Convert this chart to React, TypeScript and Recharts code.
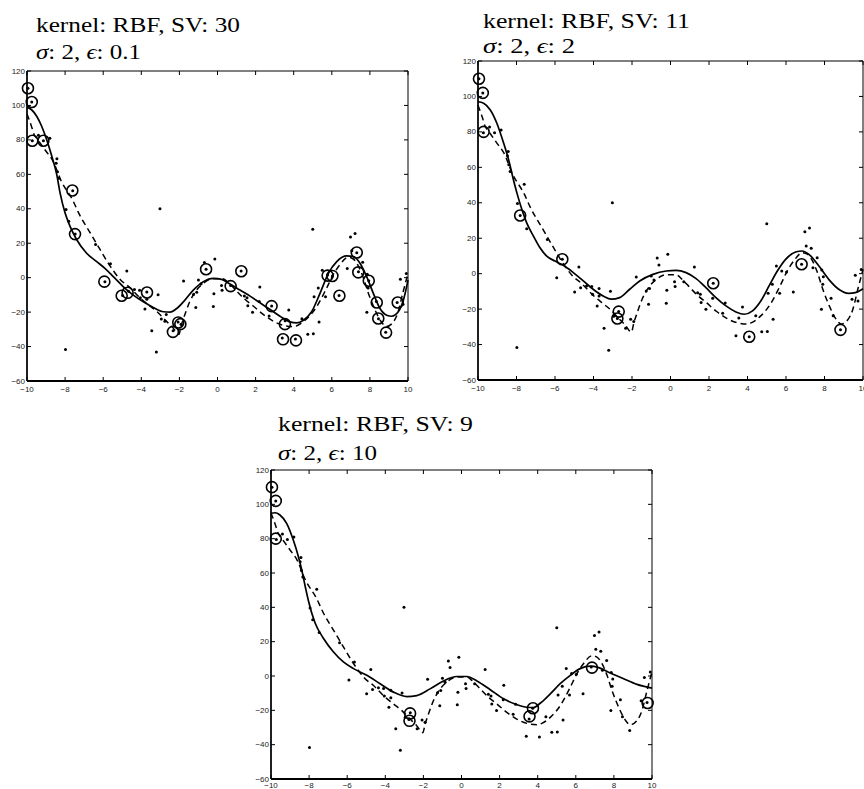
import React from 'react';
import { ComposedChart, Line, Scatter, XAxis, YAxis, ReferenceArea } from 'recharts';

const xTicks = [-10, -8, -6, -4, -2, 0, 2, 4, 6, 8, 10];
const yTicks = [-60, -40, -20, 0, 20, 40, 60, 80, 100, 120];

const titles1 = ['kernel: RBF, SV: 30', '0.1'];
const titles2 = ['kernel: RBF, SV: 11', '2'];
const titles3 = ['kernel: RBF, SV: 9', '10'];

const samplePoints: [number, number][] = [
  [-9.95, 110], [-9.75, 102], [-9.72, 79.5], [-9.4, 82.7], [-9.14, 79.5], [-8.8, 81],
  [-8.43, 69], [-8.47, 66.5], [-8.4, 61.5], [-8.33, 57.7], [-7.6, 50.5], [-7.95, 39.6],
  [-7.81, 32.8], [-7.47, 25.3], [-7.98, -41.7], [-6.4, 19.3], [-5.91, -2.3], [-5.62, 8.1],
  [-4.76, 3.8], [-4.98, -10.3], [-4.67, -7.9], [-4.36, -6.9], [-4.09, -7.3], [-4.05, -11.6],
  [-3.81, -18.2], [-3.71, -8.3], [-3.71, -12.6], [-3.45, -30.8], [-3.21, -43.2], [-3.12, -9.9],
  [-3.02, 40], [-2.69, -21.4], [-2.76, -25.3], [-2.95, -24], [-2.33, -30.8], [-2.07, -25.7],
  [-1.91, -27], [-1.78, -1.9], [-1.26, -9.8], [-1.14, -17.3], [-1.09, -8.4], [-1.0, -1.3],
  [-0.86, -3.6], [-0.69, 8.8], [-0.6, 4.9], [-0.22, -16.7], [-0.19, -9.4], [-0.14, 10.9],
  [0.21, -4.5], [0.24, -7.3], [0.69, -4.5], [1.24, 3.8], [1.41, -10.7], [1.55, -11.6],
  [1.59, -16.3], [1.84, -20.1], [2.19, -13.9], [2.22, -5.4], [2.71, -22.3], [2.84, -16.5],
  [3.4, -35.1], [3.55, -25], [3.74, -18.8], [4.09, -35.6], [4.43, -23.8], [4.74, -32.8],
  [5.0, 28.1], [5.03, -32.6], [5.07, -11.1], [5.29, -6], [5.33, -25.7], [5.5, 4.3],
  [5.67, -11.1], [5.78, 1.5], [6.03, 1.0], [6.38, -10.3], [6.81, 5.3], [6.98, 23.6],
  [7.05, 15.6], [7.22, 25.7], [7.31, 14.4], [7.4, 3.4], [7.62, 9], [7.86, 2],
  [7.84, -20.1], [7.91, -6], [7.94, -1.8], [8.34, -13.9], [8.45, -23.8], [8.83, -31.7],
  [9.43, -14.4], [9.6, -0.9], [9.74, -15.4], [9.91, 2.4],
];

const dashedCurve: [number, number][] = [
  [-10, 95], [-9.79, 88.7], [-9.62, 83], [-9.44, 80.2], [-9.0, 73.4], [-8.65, 68], [-8.21, 56.3],
  [-7.6, 45], [-7.25, 36.7], [-6.73, 26.9], [-6.2, 17], [-5.67, 7.3], [-5.06, -1.6], [-4.62, -5.5],
  [-4.1, -11.4], [-3.57, -16.3], [-3.13, -20.2], [-2.7, -25.1], [-2.35, -29], [-2.03, -33],
  [-1.91, -28], [-1.73, -22], [-1.47, -14.3], [-1.12, -7.5], [-0.77, -3.5], [-0.25, -0.6],
  [0.28, -0.6], [0.63, -3.5], [0.98, -7.5], [1.42, -12.4], [1.86, -16.3], [2.38, -21.2],
  [2.9, -25.1], [3.43, -27.6], [3.96, -28.4], [4.22, -27.6], [4.66, -24.1], [5.18, -17.3],
  [5.71, -6.5], [6.06, 1.4], [6.41, 7.3], [6.85, 11.8], [7.11, 11], [7.37, 7.3], [7.64, 0.4],
  [7.9, -8.4], [8.25, -18.2], [8.6, -25.7], [8.86, -28.4], [9.21, -26], [9.47, -20.2],
  [9.74, -8.4], [10, 2.4],
];

const fit1: [number, number][] = [
  [-10, 99], [-9.76, 97.5], [-9.49, 93.7], [-9.23, 87.9], [-8.97, 80.2], [-8.7, 70.6], [-8.44, 60],
  [-8.27, 49.5], [-8.0, 37.5], [-7.74, 29.8], [-7.39, 22], [-6.87, 14.2], [-6.34, 9.3], [-5.91, 5.4],
  [-5.47, 0.6], [-4.94, -5.3], [-4.42, -10.1], [-3.89, -14], [-3.37, -17.3], [-2.84, -19.8],
  [-2.49, -20], [-2.14, -17.9], [-1.71, -13], [-1.27, -7.2], [-0.74, -2.3], [-0.22, -0.4],
  [0.22, -1], [0.66, -3.7], [1.18, -7.2], [1.71, -10.7], [2.23, -14.6], [2.76, -18.5],
  [3.28, -22.4], [3.81, -25.7], [4.16, -26.3], [4.51, -24.7], [4.94, -19.8], [5.38, -9.1],
  [5.82, 2.5], [6.26, 9.3], [6.78, 12.6], [7.13, 12.3], [7.48, 8.4], [7.83, 0.6], [8.18, -9.1],
  [8.53, -17.9], [8.88, -21.8], [9.14, -22.4], [9.49, -19.8], [9.76, -13], [10, -1.4],
];

const fit2: [number, number][] = [
  [-10, 97], [-9.71, 96.2], [-9.36, 92.4], [-9.02, 84.9], [-8.67, 73.7], [-8.41, 64.3], [-8.16, 53],
  [-7.98, 45.6], [-7.72, 36.2], [-7.47, 28.7], [-7.12, 21.2], [-6.78, 14.6], [-6.43, 9.9], [-6.0, 7.1],
  [-5.57, 4.7], [-5.05, 0.6], [-4.53, -4.1], [-4.02, -8.8], [-3.5, -12.6], [-3.07, -14.4],
  [-2.64, -13.5], [-2.12, -8.8], [-1.6, -4.1], [-0.91, -0.4], [-0.22, 1.5], [0.29, 1.9], [0.81, 0.6],
  [1.33, -2.8], [1.84, -7.9], [2.36, -13.5], [2.88, -18.2], [3.4, -21.6], [3.83, -22.9], [4.26, -21],
  [4.69, -15.4], [5.12, -6.9], [5.55, 1.5], [5.98, 8.1], [6.5, 12.2], [6.84, 12.8], [7.19, 10.9],
  [7.71, 4.3], [8.22, -3.2], [8.74, -8.8], [9.26, -11.1], [9.6, -10.7], [10, -8.5],
];

const fit3: [number, number][] = [
  [-10, 94.8], [-9.79, 95.1], [-9.53, 93.8], [-9.18, 88.9], [-8.83, 79.2], [-8.56, 69.5], [-8.39, 62],
  [-8.2, 52], [-8.04, 44], [-7.69, 31], [-7.25, 22], [-6.73, 14.1], [-6.2, 8.2], [-5.67, 4.3],
  [-4.97, 0.4], [-4.27, -4.5], [-3.57, -9.4], [-2.87, -12], [-2.35, -11.4], [-1.65, -7.5],
  [-0.95, -2.9], [-0.25, -0.3], [0.28, -0.3], [0.81, -2.9], [1.51, -8], [2.21, -13.3], [2.91, -16.7],
  [3.43, -18.2], [3.78, -18.4], [4.13, -15.9], [4.66, -10.4], [5.18, -4.5], [5.71, 0.4], [6.23, 4.3],
  [6.76, 5.7], [7.2, 4.9], [7.81, 1.8], [8.51, -1.6], [9.21, -4.9], [10, -7.1],
];

const sv1: [number, number][] = [
  [-9.95, 110], [-9.75, 102], [-9.72, 79.5], [-9.14, 79.5], [-7.62, 50.6], [-7.48, 25.3],
  [-5.94, -2.3], [-5.03, -10.5], [-4.72, -8.8], [-3.7, -8.6], [-2.34, -31.5], [-2.06, -26],
  [-1.95, -27], [-0.6, 4.9], [0.69, -4.9], [1.25, 3.7], [2.84, -16.5], [3.44, -35.8],
  [3.54, -27], [4.12, -36.4], [5.78, 1.2], [6.03, 1], [6.4, -10.5], [7.31, 14.6], [7.39, 3.1],
  [7.94, -1.8], [8.36, -14.4], [8.44, -23.7], [8.85, -31.9], [9.46, -14.4],
];
const sv2: [number, number][] = [
  [-9.95, 110], [-9.75, 102], [-9.71, 80], [-7.81, 32.8], [-5.62, 8.1], [-2.69, -21.4],
  [-2.76, -25.3], [2.22, -5.4], [4.09, -35.6], [6.81, 5.3], [8.83, -31.7],
];
const sv3: [number, number][] = [
  [-9.95, 110], [-9.75, 102], [-9.75, 80], [-2.7, -21.8], [-2.73, -26.1], [3.75, -18.8],
  [3.57, -23.5], [6.85, 4.9], [9.77, -15.7],
];

const toRows = (arr: [number, number][]) => arr.map(([x, y]) => ({ x, y }));

const fmt = (v: number) => (v < 0 ? '\u2212' + Math.abs(v) : String(v));
const tickFont = 'Liberation Sans, Arial, Helvetica, sans-serif';

function makeXTick(plotH: number, labelDy: number) {
  return (props: any) => {
    const { x, y, payload } = props;
    return (
      <g>
        <line x1={x} y1={y} x2={x} y2={y - 4} stroke="#000" strokeWidth={1} />
        <line x1={x} y1={y - plotH} x2={x} y2={y - plotH + 4} stroke="#000" strokeWidth={1} />
        <text x={x} y={y + labelDy} textAnchor="middle" fontSize={8} style={{ fontFamily: tickFont }} fill="#222">
          {fmt(payload.value)}
        </text>
      </g>
    );
  };
}

function makeYTick(plotW: number) {
  return (props: any) => {
    const { x, y, payload } = props;
    return (
      <g>
        <line x1={x} y1={y} x2={x + 4} y2={y} stroke="#000" strokeWidth={1} />
        <line x1={x + plotW} y1={y} x2={x + plotW - 4} y2={y} stroke="#000" strokeWidth={1} />
        <text x={x - 2} y={y + 2.5} textAnchor="end" fontSize={8} style={{ fontFamily: tickFont }} fill="#222">
          {fmt(payload.value)}
        </text>
      </g>
    );
  };
}

const Dot = (p: any) => <circle cx={p.cx} cy={p.cy} r={1.5} fill="#000" />;
const Ring = (p: any) => (
  <g>
    <circle cx={p.cx} cy={p.cy} r={5.5} fill="none" stroke="#000" strokeWidth={1.6} />
  </g>
);

type PanelProps = {
  left: number; top: number; width: number; height: number;
  margin: { top: number; right: number; left: number; bottom: number };
  yAxisWidth: number; xAxisHeight: number; labelDy: number;
  fit: [number, number][]; sv: [number, number][];
};

function Panel({ left, top, width, height, margin, yAxisWidth, xAxisHeight, labelDy, fit, sv }: PanelProps) {
  const plotW = width - margin.left - margin.right - yAxisWidth;
  const plotH = height - margin.top - margin.bottom - xAxisHeight;
  return (
    <div style={{ position: 'absolute', left, top, width, height }}>
      <ComposedChart width={width} height={height} margin={margin}>
        <XAxis
          type="number" dataKey="x" domain={[-10, 10]} ticks={xTicks} height={xAxisHeight}
          tickSize={0} tickMargin={0} tickLine={false} interval={0}
          axisLine={{ stroke: '#000', strokeWidth: 2 }} tick={makeXTick(plotH, labelDy)}
        />
        <YAxis
          type="number" dataKey="y" domain={[-60, 120]} ticks={yTicks} width={yAxisWidth}
          tickSize={0} tickMargin={0} tickLine={false} interval={0}
          axisLine={{ stroke: '#000', strokeWidth: 1.5 }} tick={makeYTick(plotW)}
        />
        <ReferenceArea x1={-10} x2={10} y1={-60} y2={120} fill="none" stroke="#000" strokeWidth={1} />
        <Line data={toRows(dashedCurve)} dataKey="y" type="monotone" stroke="#000" strokeWidth={1.5}
          strokeDasharray="6 4" dot={false} activeDot={false} isAnimationActive={false} />
        <Line data={toRows(fit)} dataKey="y" type="monotone" stroke="#000" strokeWidth={1.7}
          dot={false} activeDot={false} isAnimationActive={false} />
        <Scatter data={toRows(samplePoints)} dataKey="y" shape={Dot} isAnimationActive={false} />
        <Scatter data={toRows(sv)} dataKey="y" shape={Ring} isAnimationActive={false} />
      </ComposedChart>
    </div>
  );
}

const titleFont = 'Liberation Serif, Times New Roman, DejaVu Serif, serif';

function Title({ x, y1, y2, line1, eps, w1, w2 }: { x: number; y1: number; y2: number; line1: string; eps: string; w1: number; w2: number }) {
  const st = { fontFamily: titleFont, fontSize: 21, fontWeight: 400 as const };
  return (
    <g fill="#000">
      <text x={x} y={y1} style={st} textLength={w1} lengthAdjust="spacingAndGlyphs">{line1}</text>
      <text x={x} y={y2} style={st} textLength={w2} lengthAdjust="spacingAndGlyphs">
        <tspan fontStyle="italic">σ</tspan>: 2, <tspan fontStyle="italic">ϵ</tspan>: {eps}
      </text>
    </g>
  );
}

export default function App() {
  return (
    <div style={{ position: 'absolute', left: 0, top: 0, width: 864, height: 789, background: '#fff', overflow: 'hidden' }}>
      <Panel left={0} top={60} width={420} height={340}
        margin={{ top: 11, right: 12, left: 0, bottom: 0 }} yAxisWidth={27} xAxisHeight={19} labelDy={11}
        fit={fit1} sv={sv1} />
      <Panel left={450} top={50} width={414} height={345}
        margin={{ top: 11, right: 1, left: 0, bottom: 0 }} yAxisWidth={28} xAxisHeight={15} labelDy={11}
        fit={fit2} sv={sv2} />
      <Panel left={240} top={460} width={420} height={329}
        margin={{ top: 10, right: 8, left: 0, bottom: 0 }} yAxisWidth={31} xAxisHeight={10} labelDy={9}
        fit={fit3} sv={sv3} />
      <svg width={864} height={789} style={{ position: 'absolute', left: 0, top: 0, pointerEvents: 'none' }}>
        <Title x={36} y1={32} y2={59} line1={titles1[0]} eps={titles1[1]} w1={204} w2={105} />
        <Title x={483} y1={28} y2={53} line1={titles2[0]} eps={titles2[1]} w1={207} w2={92} />
        <Title x={278} y1={431} y2={460} line1={titles3[0]} eps={titles3[1]} w1={195} w2={99} />
      </svg>
    </div>
  );
}
